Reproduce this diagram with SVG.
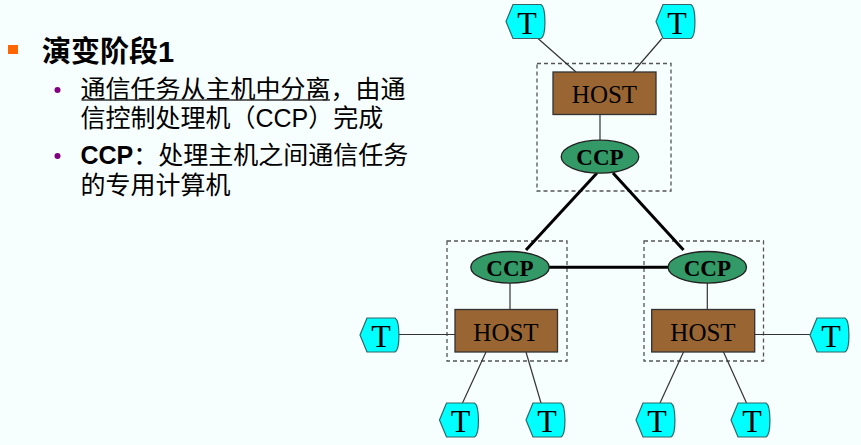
<svg xmlns="http://www.w3.org/2000/svg" width="861" height="445" viewBox="0 0 861 445">
<defs>
<style>
.bg{fill:#F7FEFE}
.txt{font-family:"Liberation Sans","Noto Sans CJK SC",sans-serif;font-size:25px;fill:#000}
.title{font-family:"Liberation Sans","Noto Sans CJK SC",sans-serif;font-size:29px;font-weight:bold;fill:#000}
.cluster{fill:none;stroke:#555;stroke-width:1.3;stroke-dasharray:4 3}
.host rect{fill:#996633;stroke:#333;stroke-width:1.3}
.host text{font-family:"Liberation Serif",serif;font-size:25px;fill:#000;text-anchor:middle}
.ccp ellipse{fill:#339966;stroke:#222;stroke-width:1.3}
.ccp text{font-family:"Liberation Serif",serif;font-size:23px;font-weight:bold;fill:#000;text-anchor:middle}
.term use{fill:#00FFFF;stroke:#336666;stroke-width:1.2}
.term text{font-family:"Liberation Serif",serif;font-size:32px;fill:#000;text-anchor:middle}
.thin{stroke:#333;stroke-width:1.2;fill:none}
.thick{stroke:#000;stroke-width:3;fill:none}
.dot{fill:#800080}
</style>
<path id="tshape" d="M0,17 L7,0 L35,0 C40,3 40.5,31 35,34 L7,34 Z"/>
</defs>
<rect class="bg" x="0" y="0" width="861" height="445"/>

<g id="text">
<rect x="8" y="45" width="10" height="9" fill="#FF6600"/>
<text class="title" x="42" y="61.5">演变阶段1</text>
<circle class="dot" cx="57.5" cy="90" r="3"/>
<text class="txt" x="80.5" y="98">通信任务从主机中分离，由通</text>
<line x1="81.5" y1="100" x2="330" y2="100" stroke="#333" stroke-width="1.3"/>
<text class="txt" x="80.5" y="127">信控制处理机（CCP）完成</text>
<circle class="dot" cx="57.5" cy="156" r="3"/>
<text class="txt" x="80.5" y="164"><tspan font-weight="bold">CCP</tspan>：处理主机之间通信任务</text>
<text class="txt" x="80.5" y="194">的专用计算机</text>
</g>

<g id="clusters">
<rect class="cluster" x="537" y="63.5" width="134" height="127.5"/>
<rect class="cluster" x="447" y="241" width="120" height="120"/>
<rect class="cluster" x="644" y="241" width="119.5" height="120"/>
</g>

<g id="connectors">
<line class="thin" x1="538" y1="38.5" x2="576" y2="72"/>
<line class="thin" x1="662" y1="38.5" x2="633" y2="72"/>
<line class="thin" x1="600" y1="114" x2="600" y2="140"/>
<line class="thick" x1="597" y1="173" x2="526" y2="250"/>
<line class="thick" x1="613" y1="173" x2="683.5" y2="250"/>
<line class="thick" x1="549" y1="267.3" x2="668.5" y2="267.3"/>
<line class="thin" x1="510" y1="283" x2="510" y2="309.5"/>
<line class="thin" x1="707.3" y1="283" x2="707.3" y2="309.5"/>
<line class="thin" x1="399" y1="334.5" x2="455" y2="334.5"/>
<line class="thin" x1="486" y1="352" x2="462.5" y2="403"/>
<line class="thin" x1="526" y1="352" x2="541" y2="403"/>
<line class="thin" x1="755" y1="334.5" x2="810" y2="334.5"/>
<line class="thin" x1="683.5" y1="352" x2="660" y2="403"/>
<line class="thin" x1="723.5" y1="352" x2="746.5" y2="403"/>
</g>

<g id="host-top" class="host"><rect x="553" y="72" width="103" height="42.5"/><text x="604.5" y="103">HOST</text></g>
<g id="host-left" class="host"><rect x="455" y="309.5" width="102.5" height="42.5"/><text x="506" y="340.5">HOST</text></g>
<g id="host-right" class="host"><rect x="651.7" y="309.5" width="103" height="42.5"/><text x="703" y="340.5">HOST</text></g>

<g id="ccp-top" class="ccp"><ellipse cx="600" cy="156.7" rx="38.8" ry="16.5"/><text x="600" y="165">CCP</text></g>
<g id="ccp-left" class="ccp"><ellipse cx="510" cy="267.3" rx="39.2" ry="15.8"/><text x="510" y="275.5">CCP</text></g>
<g id="ccp-right" class="ccp"><ellipse cx="707.3" cy="267.3" rx="39.2" ry="15.8"/><text x="707.3" y="275.5">CCP</text></g>

<g id="t1" class="term" transform="translate(506,4.5)"><use href="#tshape"/><text x="21" y="29">T</text></g>
<g id="t2" class="term" transform="translate(656,4.5)"><use href="#tshape"/><text x="21" y="29">T</text></g>
<g id="t3" class="term" transform="translate(360,318)"><use href="#tshape"/><text x="21" y="29">T</text></g>
<g id="t4" class="term" transform="translate(439.5,403)"><use href="#tshape"/><text x="21" y="29">T</text></g>
<g id="t5" class="term" transform="translate(526,403)"><use href="#tshape"/><text x="21" y="29">T</text></g>
<g id="t6" class="term" transform="translate(636,403)"><use href="#tshape"/><text x="21" y="29">T</text></g>
<g id="t7" class="term" transform="translate(731,403)"><use href="#tshape"/><text x="21" y="29">T</text></g>
<g id="t8" class="term" transform="translate(810,318)"><use href="#tshape"/><text x="21" y="29">T</text></g>
</svg>
